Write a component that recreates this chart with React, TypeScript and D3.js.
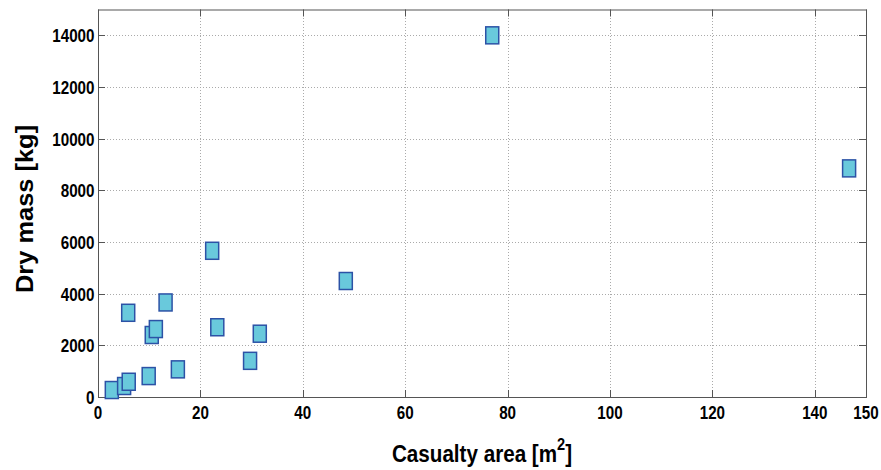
import React, { useEffect, useRef } from 'react';
import * as d3 from 'd3';

// casualty area [m^2] vs dry mass [kg]
const casualtyArea = [2.7, 5.1, 6.0, 5.9, 9.9, 10.5, 11.3, 13.2, 15.6, 22.3, 23.3, 29.7, 31.6, 48.4, 77.0, 146.7];
const dryMass = [270, 425, 590, 3260, 810, 2400, 2630, 3660, 1070, 5660, 2700, 1400, 2450, 4490, 14000, 8850];

const xTicks = [0, 20, 40, 60, 80, 100, 120, 140, 150];
const yTicks = [0, 2000, 4000, 6000, 8000, 10000, 12000, 14000];

const FONT = '"Liberation Sans", Arial, sans-serif';

export default function App() {
  const svgRef = useRef<SVGSVGElement>(null);

  useEffect(() => {
    const width = 881;
    const height = 470;
    const margin = { top: 9.5, right: 15, bottom: 73, left: 98 };

    const svg = d3.select(svgRef.current);
    svg.selectAll('*').remove();

    const x = d3.scaleLinear()
      .domain([0, 150])
      .range([margin.left, width - margin.right]);

    const y = d3.scaleLinear()
      .domain([0, 15000])
      .range([height - margin.bottom, margin.top]);

    const [x0, x1] = x.range();
    const [y0, y1] = y.range();

    svg.append('rect')
      .attr('x', 0).attr('y', 0)
      .attr('width', width).attr('height', height)
      .attr('fill', '#fff');

    // dotted grid
    const grid = svg.append('g')
      .attr('stroke', '#aaa')
      .attr('stroke-width', 1)
      .attr('stroke-dasharray', '1,2');

    grid.selectAll('line.gx')
      .data(xTicks.filter(t => t > 0 && t < 150))
      .join('line')
      .attr('class', 'gx')
      .attr('x1', d => Math.round(x(d)) + 0.5)
      .attr('x2', d => Math.round(x(d)) + 0.5)
      .attr('y1', y0)
      .attr('y2', y1);

    grid.selectAll('line.gy')
      .data(yTicks.filter(t => t > 0))
      .join('line')
      .attr('class', 'gy')
      .attr('y1', d => Math.round(y(d)) + 0.5)
      .attr('y2', d => Math.round(y(d)) + 0.5)
      .attr('x1', x0)
      .attr('x2', x1);

    // box + inward ticks
    const axisColor = '#555';
    svg.append('rect')
      .attr('x', x0 + 0.5)
      .attr('y', y1 + 0.5)
      .attr('width', x1 - x0)
      .attr('height', y0 - y1)
      .attr('fill', 'none')
      .attr('stroke', axisColor)
      .attr('stroke-width', 1);

    const ticks = svg.append('g').attr('stroke', axisColor).attr('stroke-width', 1);
    const tl = 7;
    xTicks.forEach(t => {
      const px = Math.round(x(t)) + 0.5;
      ticks.append('line').attr('x1', px).attr('x2', px).attr('y1', y0).attr('y2', y0 - tl);
      ticks.append('line').attr('x1', px).attr('x2', px).attr('y1', y1).attr('y2', y1 + tl);
    });
    yTicks.forEach(t => {
      const py = Math.round(y(t)) + 0.5;
      ticks.append('line').attr('y1', py).attr('y2', py).attr('x1', x0).attr('x2', x0 + tl);
      ticks.append('line').attr('y1', py).attr('y2', py).attr('x1', x1).attr('x2', x1 - tl);
    });

    // tick labels (condensed look of the original)
    const labels = svg.append('g')
      .attr('font-family', FONT)
      .attr('font-weight', 'bold')
      .attr('font-size', 19)
      .attr('fill', '#000');

    labels.selectAll('text.xt')
      .data(xTicks)
      .join('text')
      .attr('class', 'xt')
      .attr('text-anchor', 'middle')
      .attr('transform', d => `translate(${x(d)},${y0 + 21.5}) scale(0.8,1)`)
      .text(d => d);

    labels.selectAll('text.yt')
      .data(yTicks)
      .join('text')
      .attr('class', 'yt')
      .attr('text-anchor', 'end')
      .attr('transform', d => `translate(${x0 - 3.5},${y(d) + 7}) scale(0.8,1)`)
      .text(d => d);

    // axis titles
    const xl = svg.append('text')
      .attr('font-family', FONT)
      .attr('font-weight', 'bold')
      .attr('font-size', 24)
      .attr('text-anchor', 'middle')
      .attr('transform', `translate(${(x0 + x1) / 2},462) scale(0.86,1)`);
    xl.append('tspan').text('Casualty area [m');
    xl.append('tspan').attr('font-size', 17).attr('dy', -12).text('2');
    xl.append('tspan').attr('dy', 12).text(']');

    svg.append('text')
      .attr('font-family', FONT)
      .attr('font-weight', 'bold')
      .attr('font-size', 24)
      .attr('text-anchor', 'middle')
      .attr('transform', `translate(33,209) rotate(-90) scale(1.06,1)`)
      .text('Dry mass [kg]');

    // markers
    const pts = casualtyArea.map((a, i) => ({ a, m: dryMass[i] }));
    const mw = 13;
    const mh = 17;
    svg.append('g')
      .selectAll('rect')
      .data(pts)
      .join('rect')
      .attr('x', d => x(d.a) - mw / 2)
      .attr('y', d => y(d.m) - mh / 2)
      .attr('width', mw)
      .attr('height', mh)
      .attr('fill', '#69c9dc')
      .attr('stroke', '#2c52a6')
      .attr('stroke-width', 1.5);
  }, []);

  return (
    <div style={{ position: 'absolute', left: 0, top: 0 }}>
      <svg ref={svgRef} width={881} height={470} style={{ display: 'block' }}></svg>
    </div>
  );
}
